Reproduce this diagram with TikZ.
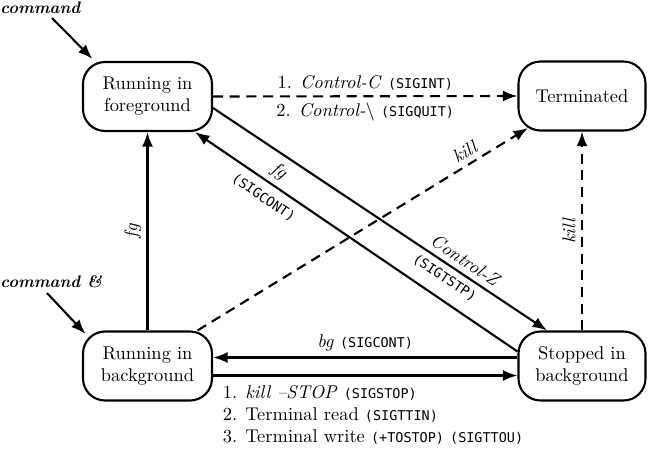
\documentclass[tikz,border=0pt]{standalone}
\usepackage{fontspec}
\setmonofont{DejaVu Sans Mono}[Scale=0.73]
\usetikzlibrary{arrows.meta}
\newcommand{\sigx}[1]{\texttt{(#1)}}
\begin{document}
\begin{tikzpicture}[x=0.02cm,y=-0.02cm,
  every node/.style={font=\fontsize{10.5pt}{12.5pt}\selectfont},
  state/.style={draw, line width=1.2pt, rounded corners=0.44cm,
    minimum width=2.58cm, minimum height=1.38cm, align=center, inner sep=0pt},
  conn/.style={line width=1.2pt},
  tip/.style={conn, -{Latex[length=2.9mm,width=2.2mm]}},
  backtip/.style={conn, {Latex[length=2.9mm,width=2.2mm]}-},
  dashedline/.style={dash pattern=on 5.7pt off 3.8pt},
  lbl/.style={inner sep=3pt},
  cmdlabel/.style={font=\fontsize{9.5pt}{11pt}\selectfont\bfseries\itshape, inner sep=0pt}]
\useasboundingbox (0,0) rectangle (650,450);

% process states
\node[state] (fg) at (147.5,96.5) {Running in\\foreground};
\node[state, minimum width=2.54cm] (term) at (582,96) {Terminated};
\node[state] (bg) at (147.5,366) {Running in\\background};
\node[state, minimum width=2.54cm] (stop) at (582,366) {Stopped in\\background};

% how a job is started
\node[cmdlabel, anchor=base west] (cmd) at (0,13) {command};
\coordinate (cmdtail) at (52,18);
\draw[tip] (cmdtail) -- ([shift={(0.21cm,0.04cm)}]fg.north west);
\node[cmdlabel, anchor=base west] (cmdbg) at (0,287) {command \&};
\coordinate (cmdbgtail) at (47,293);
\draw[tip] (cmdbgtail) -- ([shift={(0.07cm,-0.07cm)}]bg.north west);

% termination by keyboard signals
\draw[tip, dashedline] (fg.east) -- (term.west)
  node[midway, above, lbl] {1. \textit{Control-C} \sigx{SIGINT}}
  node[midway, below, lbl] {2. \textit{Control-}\textbackslash\ \sigx{SIGQUIT}};

% suspend and resume in the foreground
\draw[tip] ([yshift=-0.23cm]fg.east) -- ([xshift=-0.7cm]stop.north)
  node[pos=0.735, above, sloped, lbl] {\textit{Control-Z}}
  node[pos=0.715, below, sloped, inner sep=3.5pt] {\sigx{SIGTSTP}};
\draw[backtip] ([xshift=0.95cm]fg.south) -- ([yshift=0.29cm]stop.west)
  node[pos=0.235, above, sloped, lbl] {\textit{fg}}
  node[pos=0.24, below, sloped, inner sep=5pt] {\sigx{SIGCONT}};

% kill
\draw[tip, dashedline] ([xshift=1.0cm]bg.north) -- ([xshift=-1.08cm,yshift=0.07cm]term.south)
  node[pos=0.83, above, sloped, lbl] {\textit{kill}};
\draw[tip, dashedline] (stop.north) -- (term.south)
  node[midway, above, sloped, lbl] {\textit{kill}};

% background to foreground
\draw[tip] (bg.north) -- (fg.south)
  node[midway, above, sloped, lbl] {\textit{fg}};

% background stop and continue
\draw[tip] ([yshift=0.17cm]stop.west) -- ([yshift=0.17cm]bg.east)
  node[midway, above, lbl] {\textit{bg} \sigx{SIGCONT}};
\draw[tip] ([yshift=-0.19cm]bg.east) -- ([yshift=-0.19cm]stop.west)
  node[at start, anchor=north west, xshift=5pt, yshift=-5pt, align=left, inner sep=0pt]
  {1. \textit{kill --STOP} \sigx{SIGSTOP}\\
   2. Terminal read \sigx{SIGTTIN}\\
   3. Terminal write \sigx{+TOSTOP} \sigx{SIGTTOU}};
\end{tikzpicture}
\end{document}
